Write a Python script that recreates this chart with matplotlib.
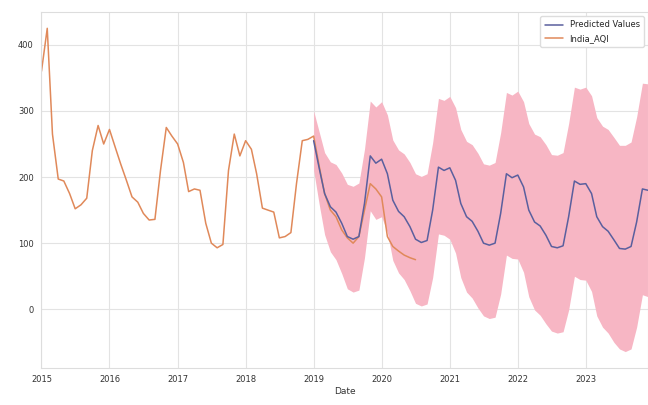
import numpy as np
import pandas as pd
import matplotlib
matplotlib.use("Agg")
import matplotlib.pyplot as plt
import seaborn as sns

# ─── data ───────────────────────────────────────────────────────────────────
aqi_start = "2015-01-01"
india_aqi = [
    360, 425, 265, 197, 194, 175, 152, 158, 168, 240, 278, 250,   # 2015
    272, 245, 220, 195, 170, 162, 145, 135, 136, 210, 275, 262,   # 2016
    250, 222, 178, 182, 180, 130, 100, 93, 98, 210, 265, 232,     # 2017
    255, 242, 205, 153, 150, 147, 108, 110, 116, 190, 255, 257,   # 2018
    262, 215, 175, 150, 140, 120, 108, 100, 110, 150, 190, 182,   # 2019
    170, 110, 95, 88, 82, 78, 75,                                 # 2020
]

pred_start = "2019-01-01"
predicted = [
    255, 212, 175, 155, 147, 130, 110, 106, 110, 160, 232, 221,
    227, 205, 165, 148, 140, 125, 106, 101, 104, 150, 215, 210,
    214, 195, 160, 140, 133, 118, 100, 97, 100, 145, 205, 199,
    203, 185, 150, 132, 126, 112, 95, 93, 96, 140, 194, 189,
    190, 175, 140, 125, 118, 105, 92, 91, 95, 132, 182, 180,
]
upper = [
    300, 267, 237, 223, 219, 206, 189, 186, 191, 242, 315, 306,
    314, 294, 256, 241, 235, 222, 205, 201, 205, 252, 319, 316,
    322, 305, 272, 254, 249, 236, 220, 218, 222, 267, 328, 324,
    330, 314, 281, 265, 261, 249, 234, 233, 237, 281, 336, 333,
    336, 323, 290, 277, 272, 260, 248, 248, 253, 291, 342, 341,
]
lower = [
    210, 157, 113, 87, 75, 54, 31, 26, 29, 78, 149, 136,
    140, 116, 74, 55, 45, 28, 9, 5, 8, 48, 114, 112,
    106, 85, 48, 26, 17, 2, -10, -14, -12, 23, 82, 77,
    76, 56, 19, -1, -9, -22, -33, -36, -34, -1, 50, 45,
    44, 27, -10, -27, -36, -50, -60, -64, -60, -27, 22, 19,
]

aqi_dates = pd.date_range(aqi_start, periods=len(india_aqi), freq="MS")
pred_dates = pd.date_range(pred_start, periods=len(predicted), freq="MS")

# ─── plot ───────────────────────────────────────────────────────────────────
sns.set_style("whitegrid")
plt.rcParams["font.family"] = ["DejaVu Sans"]

fig = plt.figure(figsize=(6.48, 4.05), dpi=100)
ax = fig.add_axes([0.064, 0.092, 0.936, 0.878])

ax.fill_between(pred_dates, lower, upper, color="#f7b6c4", lw=0, zorder=1)
ax.plot(pred_dates, predicted, color="#5a5f9e", lw=1.1, label="Predicted Values", zorder=3)
ax.plot(aqi_dates, india_aqi, color="#e0895a", lw=1.1, label="India_AQI", zorder=2)

ax.set_xlim(aqi_dates[0], pred_dates[-1])
ax.set_xlabel("Date", fontsize=6.5, color="#333333", labelpad=2)
ax.tick_params(labelsize=6, colors="#333333", pad=2)
ax.grid(color="#e3e3e3", lw=0.8)
for s in ax.spines.values():
    s.set_color("#dddddd")
    s.set_linewidth(0.8)

ax.legend(loc="upper right", fontsize=6, frameon=True, framealpha=1,
          edgecolor="#dddddd", borderpad=0.5, handlelength=2.2)

fig.savefig("out.png", dpi=100)
